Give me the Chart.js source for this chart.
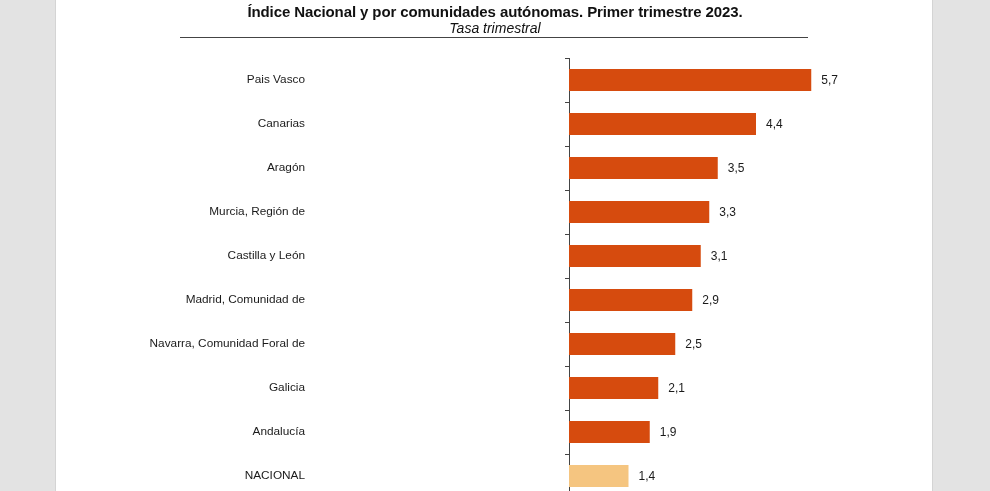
<!DOCTYPE html>
<html>
<head>
<meta charset="utf-8">
<script src="https://cdn.jsdelivr.net/npm/chart.js@4"></script>
<style>
  html, body { margin: 0; padding: 0; width: 990px; height: 491px; overflow: hidden; background: #e3e3e3; }
  #page { position: absolute; left: 55px; top: 0; width: 876px; height: 491px; background: #fff;
          border-left: 1px solid #d4d4d4; border-right: 1px solid #d4d4d4; }
  #title { position: absolute; left: 0; width: 990px; top: 3px; text-align: center;
           font-family: "Liberation Sans", Arial, sans-serif; font-weight: bold; font-size: 15px; letter-spacing: -0.1px; color: #111; }
  #subtitle { position: absolute; left: 0; width: 990px; top: 20px; text-align: center;
           font-family: "Liberation Sans", Arial, sans-serif; font-style: italic; font-size: 14px; color: #111; }
  #rule { position: absolute; left: 180px; width: 628px; top: 37px; height: 0; border-top: 1px solid #444; }
  #wrap { position: absolute; left: 0; top: 0; width: 990px; height: 510px; }
</style>
</head>
<body>
<div id="page"></div>
<div id="wrap"><canvas id="c"></canvas></div>
<div id="title">Índice Nacional y por comunidades autónomas. Primer trimestre 2023.</div>
<div id="subtitle">Tasa trimestral</div>
<div id="rule"></div>
<script>
const categories = ["Pais Vasco", "Canarias", "Aragón", "Murcia, Región de", "Castilla y León",
  "Madrid, Comunidad de", "Navarra, Comunidad Foral de", "Galicia", "Andalucía", "NACIONAL"];
const values = [5.7, 4.4, 3.5, 3.3, 3.1, 2.9, 2.5, 2.1, 1.9, 1.4];
const barColors = categories.map(c => c === "NACIONAL" ? "#f5c580" : "#d64b0e");

const valueLabels = {
  id: 'valueLabels',
  afterDatasetsDraw(chart) {
    const ctx = chart.ctx;
    const meta = chart.getDatasetMeta(0);
    ctx.save();
    ctx.font = '12px "Liberation Sans", Arial, sans-serif';
    ctx.fillStyle = '#1a1a1a';
    ctx.textAlign = 'left';
    ctx.textBaseline = 'middle';
    meta.data.forEach((bar, i) => {
      const txt = values[i].toFixed(1).replace('.', ',');
      ctx.fillText(txt, bar.x + 10, bar.y + 1);
    });
    ctx.restore();
  }
};

new Chart(document.getElementById('c'), {
  type: 'bar',
  data: {
    labels: categories,
    datasets: [{
      data: values,
      backgroundColor: barColors,
      borderWidth: 0,
      categoryPercentage: 1,
      barPercentage: 0.5
    }]
  },
  options: {
    indexAxis: 'y',
    responsive: true,
    maintainAspectRatio: false,
    animation: false,
    layout: { padding: { top: 58, bottom: 12, left: 0, right: 81 } },
    plugins: { legend: { display: false }, tooltip: { enabled: false }, title: { display: false } },
    scales: {
      x: { display: false, min: 0, max: 8 },
      y: {
        afterFit(scale) { scale.width = 569; scale.paddingTop = 0; scale.paddingBottom = 0; },
        border: { display: true, color: '#444', width: 1 },
        grid: { display: true, drawOnChartArea: false, offset: true, tickLength: 4, color: '#444' },
        ticks: {
          color: '#1a1a1a',
          padding: 260,
          font: { family: '"Liberation Sans", Arial, sans-serif', size: 11.8 }
        }
      }
    }
  },
  plugins: [valueLabels]
});
</script>
</body>
</html>
